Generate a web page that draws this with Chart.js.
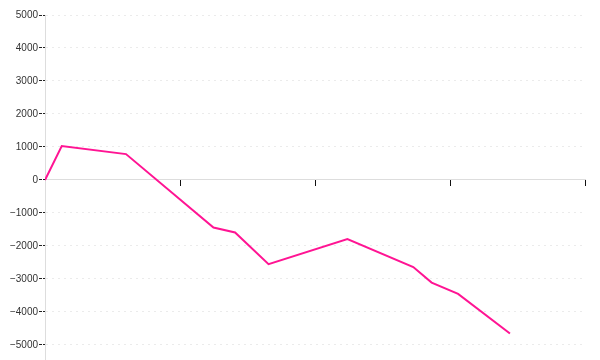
<!DOCTYPE html>
<html>
<head>
<meta charset="utf-8">
<script src="https://cdn.jsdelivr.net/npm/chart.js@4/dist/chart.umd.min.js"></script>
<style>
  html, body { margin: 0; padding: 0; background: #fff; }
  #wrap { width: 600px; height: 360px; position: relative; }
</style>
</head>
<body>
<div id="wrap"><canvas id="c"></canvas></div>
<script>
// Data
const xValues = [0, 3.1, 15, 31.2, 35.2, 41.4, 56, 68.2, 71.6, 76.5, 86.1];
const yValues = [0, 1030, 785, -1440, -1590, -2550, -1790, -2640, -3110, -3450, -4650];
const yTickValues = [5000, 4000, 3000, 2000, 1000, 0, -1000, -2000, -3000, -4000, -5000];
const xTickValues = [0, 25, 50, 75, 100];

const points = xValues.map((x, i) => ({ x: x, y: yValues[i] }));

new Chart(document.getElementById('c'), {
  type: 'line',
  data: {
    datasets: [{
      data: points,
      borderColor: 'rgb(255,20,147)',
      borderWidth: 2,
      pointRadius: 0,
      tension: 0,
      fill: false
    }]
  },
  options: {
    responsive: true,
    maintainAspectRatio: false,
    animation: false,
    events: [],
    layout: { padding: { left: 0, right: 15, top: 15, bottom: 0 } },
    plugins: { legend: { display: false }, tooltip: { enabled: false } },
    scales: {
      x: {
        type: 'linear',
        position: { y: 0 },
        min: 0,
        max: 100,
        afterBuildTicks: s => { s.ticks = xTickValues.map(v => ({ value: v })); },
        afterFit: s => { s.paddingLeft = 0; s.paddingRight = 0; },
        ticks: { display: false },
        grid: {
          drawOnChartArea: false,
          drawTicks: true,
          tickLength: 6,
          tickColor: '#111',
          tickWidth: 1
        },
        border: { display: true, color: '#dddddd', width: 1 }
      },
      y: {
        type: 'linear',
        min: -5455,
        max: 5000,
        afterBuildTicks: s => { s.ticks = yTickValues.map(v => ({ value: v })); },
        afterFit: s => { s.width = 45; s.paddingTop = 0; s.paddingBottom = 0; },
        ticks: {
          padding: 1,
          color: '#333',
          font: { family: 'Liberation Sans', size: 10 },
          callback: v => (v < 0 ? '\u2212' + Math.abs(v) : String(v))
        },
        grid: {
          color: '#ebebeb',
          lineWidth: 1,
          drawTicks: true,
          tickLength: 6,
          tickColor: '#222',
          tickBorderDash: [3, 1]
        },
        border: { display: true, color: '#dddddd', width: 1, dash: [2, 4] }
      }
    }
  }
});
</script>
</body>
</html>
